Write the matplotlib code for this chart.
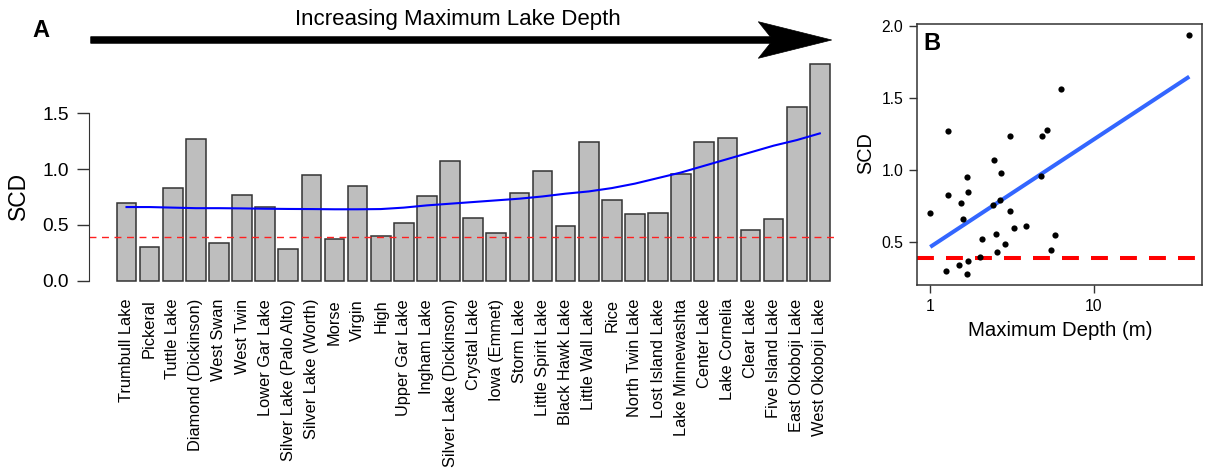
import numpy as np
import matplotlib
matplotlib.use('Agg')
import matplotlib.pyplot as plt
from matplotlib.patches import Polygon

plt.rcParams['font.family'] = ['Liberation Sans', 'DejaVu Sans']

#-------data-------
lakes = ['Trumbull Lake', 'Pickeral', 'Tuttle Lake', 'Diamond (Dickinson)', 'West Swan',
         'West Twin', 'Lower Gar Lake', 'Silver Lake (Palo Alto)', 'Silver Lake (Worth)',
         'Morse', 'Virgin', 'High', 'Upper Gar Lake', 'Ingham Lake',
         'Silver Lake (Dickinson)', 'Crystal Lake', 'Iowa (Emmet)', 'Storm Lake',
         'Little Spirit Lake', 'Black Hawk Lake', 'Little Wall Lake', 'Rice',
         'North Twin Lake', 'Lost Island Lake', 'Lake Minnewashta', 'Center Lake',
         'Lake Cornelia', 'Clear Lake', 'Five Island Lake', 'East Okoboji Lake',
         'West Okoboji Lake']
scd = [0.70, 0.30, 0.83, 1.27, 0.34, 0.77, 0.66, 0.28, 0.95, 0.37, 0.85, 0.40, 0.52,
       0.76, 1.07, 0.56, 0.43, 0.79, 0.98, 0.49, 1.24, 0.72, 0.60, 0.61, 0.96, 1.24,
       1.28, 0.45, 0.55, 1.56, 1.94]
depth = [0.99, 1.24, 1.28, 1.29, 1.49, 1.54, 1.59, 1.67, 1.67, 1.69, 1.70, 2.01, 2.08,
         2.43, 2.46, 2.53, 2.56, 2.67, 2.71, 2.88, 3.06, 3.07, 3.27, 3.87, 4.75, 4.79,
         5.14, 5.47, 5.78, 6.26, 38.3]
# smoothed trend in panel A
smooth = [0.66, 0.66, 0.655, 0.65, 0.65, 0.648, 0.645, 0.643, 0.642, 0.64, 0.64, 0.642,
          0.655, 0.675, 0.69, 0.705, 0.72, 0.735, 0.755, 0.78, 0.80, 0.83, 0.87, 0.92,
          0.97, 1.03, 1.09, 1.15, 1.21, 1.26, 1.32]
# linear fit in panel B (log depth)
fit_depth = [1.0, 38.3]
fit_scd = [0.468, 1.649]
threshold = 0.39

W, H = 1206, 473
def fx(x):
    return x / W
def fy(y):
    return 1 - y / H

fig = plt.figure(figsize=(W / 100, H / 100), dpi=100)

#-------panel A-------
ax = fig.add_axes([fx(88.7), fy(286.3), (836.7 - 88.7) / W, (286.3 - 57.5) / H])
x = np.arange(len(lakes))
ax.bar(x, scd, width=0.85, color='#BEBEBE', edgecolor='#333333', linewidth=1.1)
ax.plot(x, smooth, color='#0000FF', lw=1.5)
ax.axhline(threshold, color='#FF2020', lw=1.0, dashes=(5, 4))
ax.set_xlim(-1.636, 30.73)
ax.set_ylim(-0.05, 2.0)
for s in ['top', 'right', 'bottom']:
    ax.spines[s].set_visible(False)
ax.spines['left'].set_bounds(0, 1.5)
ax.spines['left'].set_color('#333333')
ax.set_yticks([0, 0.5, 1.0, 1.5])
ax.set_yticklabels(['0.0', '0.5', '1.0', '1.5'])
ax.tick_params(axis='y', length=9, width=1, color='#333333', pad=5.5, labelsize=13.8)
ax.set_xticks(x)
ax.set_xticklabels(lakes, rotation=90)
ax.tick_params(axis='x', length=0, pad=9.1, labelsize=11.8)
fig.text(fx(18.5), fy(196), 'SCD', rotation=90, ha='center', va='center', fontsize=16.5)
fig.text(fx(41), fy(30.5), 'A', ha='center', va='center', fontsize=17, fontweight='bold')
fig.text(fx(457.9), fy(19.3), 'Increasing Maximum Lake Depth', ha='center', va='center',
         fontsize=16)
# arrow
arrow = [(90.7, 36.7), (770.3, 36.7), (758.3, 21.7), (831.7, 40), (758.3, 58.3),
         (770.3, 43.3), (90.7, 43.3)]
fig.patches.append(Polygon([(fx(a), fy(b)) for a, b in arrow], closed=True,
                           facecolor='black', edgecolor='black', lw=0.5,
                           transform=fig.transFigure))

#-------panel B-------
bx = fig.add_axes([fx(917), fy(285), (1202 - 917) / W, (285 - 24) / H])
bx.set_xscale('log')
bx.axhline(threshold, color='#FF0000', lw=2.9, dashes=(4.2, 3.0))
bx.plot(fit_depth, fit_scd, color='#3366FF', lw=2.9, solid_capstyle='butt')
bx.scatter(depth, scd, s=20, color='black', zorder=3, linewidths=0)
bx.set_xlim(0.83, 45.8)
bx.set_ylim(0.204, 2.014)
bx.set_xticks([1, 10])
bx.set_xticklabels(['1', '10'])
bx.xaxis.set_minor_locator(matplotlib.ticker.NullLocator())
bx.set_yticks([0.5, 1.0, 1.5, 2.0])
bx.set_yticklabels(['0.5', '1.0', '1.5', '2.0'])
bx.tick_params(length=5.5, width=1, color='#333333', labelsize=11.3)
bx.tick_params(axis='y', pad=4.3)
bx.tick_params(axis='x', pad=4.5)
for s in bx.spines.values():
    s.set_color('#333333')
    s.set_linewidth(1.1)
fig.text(fx(1060), fy(330), 'Maximum Depth (m)', ha='center', va='center', fontsize=14.7)
fig.text(fx(866), fy(153), 'SCD', rotation=90, ha='center', va='center', fontsize=14.3)
fig.text(fx(931.5), fy(43.5), 'B', ha='center', va='center', fontsize=17, fontweight='bold')

fig.savefig('out.png', dpi=100)
